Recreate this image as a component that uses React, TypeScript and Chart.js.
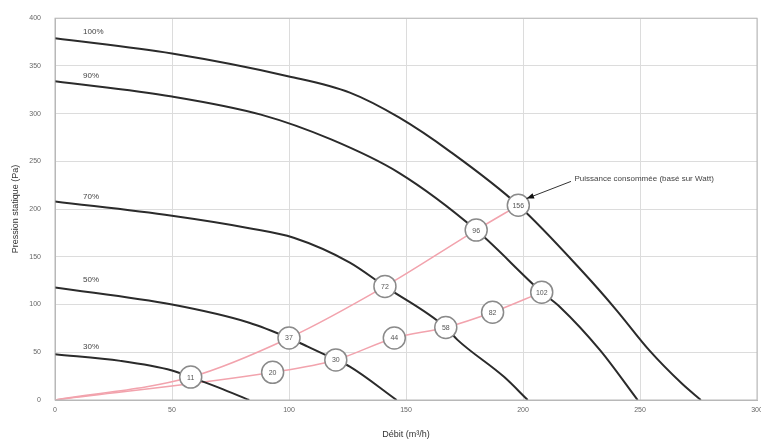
import React, { useEffect, useRef } from "react";
import { Chart, registerables } from "chart.js";

Chart.register(...registerables);

// Fan curves (débit m³/h, pression Pa)
const curveLabels = ["100%", "90%", "70%", "50%", "30%"];
const q100 = [0, 50, 100, 126, 147, 169, 198, 226, 240, 254, 268, 276];
const p100 = [379, 363, 339, 322, 296, 260, 204, 133, 94, 52, 17, 0];
const q90 = [0, 50, 88, 118, 147, 180, 208, 216, 233, 249];
const p90 = [334, 318, 299, 273, 238, 178, 113, 97, 52, 0];
const q70 = [0, 50, 83, 102, 126, 141, 167, 172, 192, 202];
const p70 = [208, 193, 180, 170, 144, 119, 76, 63, 24, 0];
const q50 = [0, 50, 83, 100, 108, 120, 126, 146];
const p50 = [118, 100, 81, 65, 56, 42, 35, 0];
const q30 = [0, 28, 50, 58, 70, 83];
const p30 = [48, 41, 31, 24, 13, 0];

// Curve label anchor (data units)
const labelQ = [12, 12, 12, 12, 12];
const labelP = [386, 340, 213, 126, 56];

// System curves (pink)
const qSysA = [0, 58, 100, 141, 180, 198];
const pSysA = [0, 24, 65, 119, 178, 204];
const qSysB = [0, 93, 120, 145, 167, 187, 208];
const pSysB = [0, 29, 42, 65, 76, 92, 113];

// Power markers (W)
const markerQ = [58, 100, 141, 180, 198, 93, 120, 145, 167, 187, 208];
const markerP = [24, 65, 119, 178, 204, 29, 42, 65, 76, 92, 113];
const markerLabels = ["11", "37", "72", "96", "156", "20", "30", "44", "58", "82", "102"];

// Annotation
const noteText = "Puissance consommée (basé sur Watt)";
const noteQ = 222;
const noteP = 232;
const arrowFromQ = 220.5;
const arrowFromP = 229;
const arrowToQ = 201.5;
const arrowToP = 211;

const xTicksMin = 0;
const xTicksMax = 300;
const yTicksMin = 0;
const yTicksMax = 400;

const FONT = "'Liberation Sans', Arial, sans-serif";

const zip = (xs: number[], ys: number[]) => xs.map((x, i) => ({ x, y: ys[i] }));

const overlayPlugin = {
  id: "overlay",
  afterDatasetsDraw(chart: any) {
    const { ctx, scales, chartArea } = chart;
    const xs = scales.x;
    const ys = scales.y;
    ctx.save();
    // plot border
    ctx.strokeStyle = "#b8b8b8";
    ctx.lineWidth = 1;
    ctx.strokeRect(chartArea.left, chartArea.top, chartArea.right - chartArea.left, chartArea.bottom - chartArea.top);

    // curve labels
    ctx.fillStyle = "#444";
    ctx.font = `8px ${FONT}`;
    ctx.textAlign = "left";
    ctx.textBaseline = "middle";
    curveLabels.forEach((t, i) => {
      ctx.fillText(t, xs.getPixelForValue(labelQ[i]), ys.getPixelForValue(labelP[i]));
    });

    // marker labels
    ctx.fillStyle = "#555";
    ctx.font = `7px ${FONT}`;
    ctx.textAlign = "center";
    markerLabels.forEach((t, i) => {
      ctx.fillText(t, xs.getPixelForValue(markerQ[i]), ys.getPixelForValue(markerP[i]) + 0.5);
    });

    // annotation
    ctx.fillStyle = "#444";
    ctx.font = `8px ${FONT}`;
    ctx.textAlign = "left";
    ctx.fillText(noteText, xs.getPixelForValue(noteQ), ys.getPixelForValue(noteP));
    const x1 = xs.getPixelForValue(arrowFromQ);
    const y1 = ys.getPixelForValue(arrowFromP);
    const x2 = xs.getPixelForValue(arrowToQ);
    const y2 = ys.getPixelForValue(arrowToP);
    ctx.strokeStyle = "#333";
    ctx.lineWidth = 1;
    ctx.beginPath();
    ctx.moveTo(x1, y1);
    ctx.lineTo(x2, y2);
    ctx.stroke();
    const ang = Math.atan2(y2 - y1, x2 - x1);
    const L = 8;
    ctx.fillStyle = "#111";
    ctx.beginPath();
    ctx.moveTo(x2, y2);
    ctx.lineTo(x2 - L * Math.cos(ang - 0.35), y2 - L * Math.sin(ang - 0.35));
    ctx.lineTo(x2 - L * Math.cos(ang + 0.35), y2 - L * Math.sin(ang + 0.35));
    ctx.closePath();
    ctx.fill();
    ctx.restore();
  },
};

export default function App() {
  const ref = useRef<HTMLCanvasElement | null>(null);
  useEffect(() => {
    document.body.style.margin = "0";
    const fanColor = "#2b2b2b";
    const sysColor = "#f2a3ad";
    const fanSets = [
      [q100, p100],
      [q90, p90],
      [q70, p70],
      [q50, p50],
      [q30, p30],
    ].map(([q, p], i) => ({
      type: "line" as const,
      label: curveLabels[i],
      data: zip(q, p),
      borderColor: fanColor,
      borderWidth: 2,
      pointRadius: 0,
      cubicInterpolationMode: "monotone" as const,
      fill: false,
    }));
    const chart = new Chart(ref.current!, {
      type: "line",
      data: {
        datasets: [
          {
            type: "scatter" as const,
            label: "Puissance",
            data: zip(markerQ, markerP),
            pointRadius: 11,
            pointBackgroundColor: "#ffffff",
            pointBorderColor: "#8a8a8a",
            pointBorderWidth: 1.5,
            showLine: false,
          } as any,
          ...fanSets,
          {
            type: "line" as const,
            label: "Réseau A",
            data: zip(qSysA, pSysA),
            borderColor: sysColor,
            borderWidth: 1.5,
            pointRadius: 0,
            cubicInterpolationMode: "monotone" as const,
          },
          {
            type: "line" as const,
            label: "Réseau B",
            data: zip(qSysB, pSysB),
            borderColor: sysColor,
            borderWidth: 1.5,
            pointRadius: 0,
            cubicInterpolationMode: "monotone" as const,
          },
        ],
      },
      options: {
        animation: false,
        responsive: false,
        devicePixelRatio: 1,
        layout: { autoPadding: false, padding: { top: 18, right: 4, left: 0, bottom: 0 } },
        plugins: { legend: { display: false }, tooltip: { enabled: false } },
        scales: {
          x: {
            type: "linear",
            min: xTicksMin,
            max: xTicksMax,
            ticks: { stepSize: 50, color: "#666", font: { size: 7, family: FONT }, padding: 6 },
            grid: { color: "#dcdcdc", lineWidth: 1, drawTicks: false },
            border: { color: "#b8b8b8" },
            title: { display: true, text: "Débit (m³/h)", color: "#333", font: { size: 9, family: FONT }, padding: { top: 6, bottom: 0 } },
            afterFit(scale: any) {
              scale.height = 40;
              scale.paddingRight = 0;
              scale.paddingLeft = 0;
            },
          },
          y: {
            type: "linear",
            min: yTicksMin,
            max: yTicksMax,
            ticks: { stepSize: 50, color: "#666", font: { size: 7, family: FONT }, padding: 14 },
            grid: { color: "#dcdcdc", lineWidth: 1, drawTicks: false },
            border: { color: "#b8b8b8" },
            title: { display: true, text: "Pression statique (Pa)", color: "#333", font: { size: 9, family: FONT }, padding: { top: 10, bottom: 0 } },
            afterFit(scale: any) {
              scale.width = 55;
            },
          },
        },
      },
      plugins: [overlayPlugin],
    });
    return () => chart.destroy();
  }, []);
  return (
    <div style={{ width: 761, height: 440, background: "#fff" }}>
      <canvas ref={ref} width={761} height={440} style={{ display: "block" }} />
    </div>
  );
}
